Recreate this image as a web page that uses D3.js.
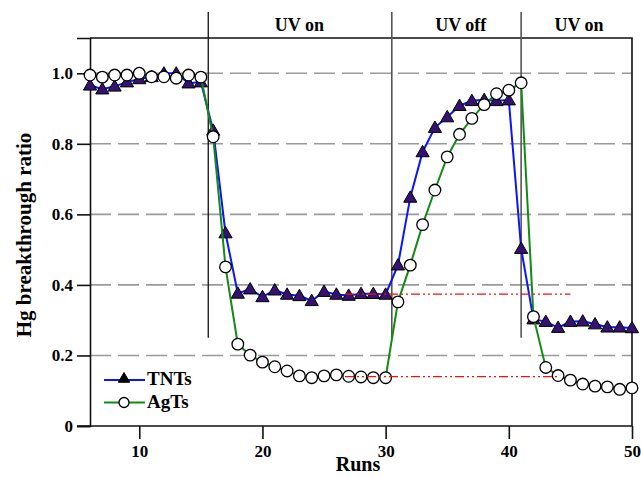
<!DOCTYPE html>
<html>
<head>
<meta charset="utf-8">
<script src="https://cdn.jsdelivr.net/npm/d3@7/dist/d3.min.js"></script>
<style>
  html, body { margin: 0; padding: 0; background: #fff; }
  svg { display: block; }
  svg text { font-family: "Liberation Serif", "Times New Roman", serif; font-weight: bold; fill: #000; }
</style>
</head>
<body>
<svg id="chart" width="641" height="477"></svg>
<script>
// Hg breakthrough ratio per run for the two sorbents
const runs = d3.range(6, 51);
const tntValues = [
  0.966, 0.955, 0.963, 0.975, 0.984, 0.990, 1.000, 1.000, 0.972, 0.975,
  0.838, 0.547, 0.376, 0.388, 0.366, 0.385, 0.373, 0.369, 0.355, 0.381,
  0.373, 0.370, 0.375, 0.375, 0.373, 0.456, 0.648, 0.777, 0.846, 0.876,
  0.908, 0.922, 0.925, 0.922, 0.924, 0.503, 0.303, 0.296, 0.279, 0.296,
  0.297, 0.289, 0.280, 0.280, 0.278
];
const agtValues = [
  0.995, 0.989, 0.995, 0.995, 1.000, 0.990, 0.990, 0.986, 0.995, 0.989,
  0.820, 0.451, 0.232, 0.201, 0.181, 0.168, 0.156, 0.142, 0.137, 0.142,
  0.145, 0.141, 0.139, 0.137, 0.137, 0.352, 0.456, 0.571, 0.669, 0.763,
  0.827, 0.872, 0.911, 0.942, 0.952, 0.973, 0.310, 0.166, 0.143, 0.130,
  0.119, 0.113, 0.111, 0.104, 0.108
];
const seriesNames = ["TNTs", "AgTs"];

// UV phase boundaries (in runs) and their labels
const phaseBoundaries = [15.6, 30.5, 41.0];
const phaseLabels = ["UV on", "UV off", "UV on"];
const phaseLabelRuns = [23.0, 36.1, 45.7];

// Reference levels carried across the UV-off period
const refLevels = [0.374, 0.140];
const refStartRun = [26.7, 26.7];
const refEndRun = [45.0, 44.0];

const xTicks = [10, 20, 30, 40, 50];
const yTicks = [0, 0.2, 0.4, 0.6, 0.8, 1.0];
const yTickLabels = ["0", "0.2", "0.4", "0.6", "0.8", "1.0"];

const FONT = '"Liberation Serif", "Times New Roman", serif';
const svg = d3.select("#chart");
const L = 90, R = 632, T = 38, B = 426;

const x = d3.scaleLinear().domain([6, 50]).range([L, R]);
const y = d3.scaleLinear().domain([0, 1.1]).range([B, T]);

// dashed horizontal grid
svg.append("g")
  .selectAll("line")
  .data(yTicks.filter(v => v > 0))
  .join("line")
  .attr("x1", L).attr("x2", R)
  .attr("y1", d => y(d)).attr("y2", d => y(d))
  .attr("stroke", "#9a9a9a")
  .attr("stroke-width", 1.6)
  .attr("stroke-dasharray", "21,7");

// frame top and right
svg.append("path")
  .attr("d", `M${L},${T}H${R}V${B}`)
  .attr("fill", "none")
  .attr("stroke", "#111")
  .attr("stroke-width", 1.6);

// axes
const yAxis = d3.axisLeft(y).tickValues(yTicks)
  .tickFormat((d, i) => yTickLabels[i]).tickSize(13).tickPadding(4);
const gy = svg.append("g").attr("transform", `translate(${L},0)`).call(yAxis)
  .attr("font-family", FONT).attr("font-size", 17);
gy.select(".domain").attr("stroke", "#111").attr("stroke-width", 1.6);
gy.selectAll(".tick line").attr("stroke", "#111").attr("stroke-width", 1.6);

const xAxis = d3.axisBottom(x).tickValues(xTicks).tickSize(13).tickPadding(6);
const gx = svg.append("g").attr("transform", `translate(0,${B})`).call(xAxis)
  .attr("font-family", FONT).attr("font-size", 17);
gx.select(".domain").attr("stroke", "#111").attr("stroke-width", 1.6)
  .attr("d", `M${L - 13},0H${R}`);
gx.selectAll(".tick line").attr("stroke", "#111").attr("stroke-width", 1.6);

// phase divider lines and labels
svg.append("g")
  .selectAll("line")
  .data(phaseBoundaries)
  .join("line")
  .attr("x1", d => x(d)).attr("x2", d => x(d))
  .attr("y1", 12).attr("y2", y(0.25))
  .attr("stroke", (d, i) => i === 0 ? "#111" : "#555")
  .attr("stroke-width", (d, i) => i === 0 ? 1.3 : 1.6);

svg.append("g")
  .selectAll("text")
  .data(phaseLabels)
  .join("text")
  .attr("x", (d, i) => x(phaseLabelRuns[i]))
  .attr("y", 31)
  .attr("text-anchor", "middle")
  .attr("font-size", 18)
  .text(d => d);

// series lines and markers
const tntData = runs.map((r, i) => ({ r, v: tntValues[i] }));
const agtData = runs.map((r, i) => ({ r, v: agtValues[i] }));
const line = d3.line().x(d => x(d.r)).y(d => y(d.v));

const triangle = d3.symbol().type(d3.symbolTriangle).size(75);
const triangleSmall = d3.symbol().type(d3.symbolTriangle).size(55);

svg.append("path").datum(tntData)
  .attr("d", line).attr("fill", "none")
  .attr("stroke", "#0a14ff").attr("stroke-width", 2);
svg.append("g").selectAll("path").data(tntData).join("path")
  .attr("d", triangle)
  .attr("transform", d => `translate(${x(d.r)},${y(d.v) + 1})`)
  .attr("fill", "#35126f").attr("stroke", "#000").attr("stroke-width", 1);

svg.append("path").datum(agtData)
  .attr("d", line).attr("fill", "none")
  .attr("stroke", "#138a13").attr("stroke-width", 2);
svg.append("g").selectAll("circle").data(agtData).join("circle")
  .attr("cx", d => x(d.r)).attr("cy", d => y(d.v)).attr("r", 5.8)
  .attr("fill", "#fff").attr("stroke", "#000").attr("stroke-width", 1.3);

// red dash-dot-dot reference levels
svg.append("g")
  .selectAll("line")
  .data(refLevels)
  .join("line")
  .attr("x1", (d, i) => x(refStartRun[i])).attr("x2", (d, i) => x(refEndRun[i]))
  .attr("y1", d => y(d)).attr("y2", d => y(d))
  .attr("stroke", "#ee1111")
  .attr("stroke-width", 1.2)
  .attr("stroke-dasharray", "9,3,2,3,2,3");

// legend
const legend = svg.append("g");
const legendRows = [
  { name: seriesNames[0], color: "#0a14ff", y: 380 },
  { name: seriesNames[1], color: "#138a13", y: 402.5 }
];
legendRows.forEach((row, i) => {
  legend.append("line")
    .attr("x1", 104).attr("x2", 145).attr("y1", row.y).attr("y2", row.y)
    .attr("stroke", row.color).attr("stroke-width", 2);
  if (i === 0) {
    legend.append("path").attr("d", triangleSmall)
      .attr("transform", `translate(124,${row.y - 1})`)
      .attr("fill", "#000").attr("stroke", "#000").attr("stroke-width", 1);
  } else {
    legend.append("circle").attr("cx", 124).attr("cy", row.y).attr("r", 5)
      .attr("fill", "#fff").attr("stroke", "#000").attr("stroke-width", 1.3);
  }
  legend.append("text")
    .attr("x", 147).attr("y", row.y + 5)
    .attr("font-size", 19)
    .text(row.name);
});

// axis titles
svg.append("text")
  .attr("x", 358).attr("y", 471)
  .attr("text-anchor", "middle")
  .attr("font-size", 20)
  .text("Runs");

svg.append("text")
  .attr("transform", "translate(31,235) rotate(-90)")
  .attr("text-anchor", "middle")
  .attr("font-size", 21)
  .text("Hg breakthrough ratio");
</script>
</body>
</html>
